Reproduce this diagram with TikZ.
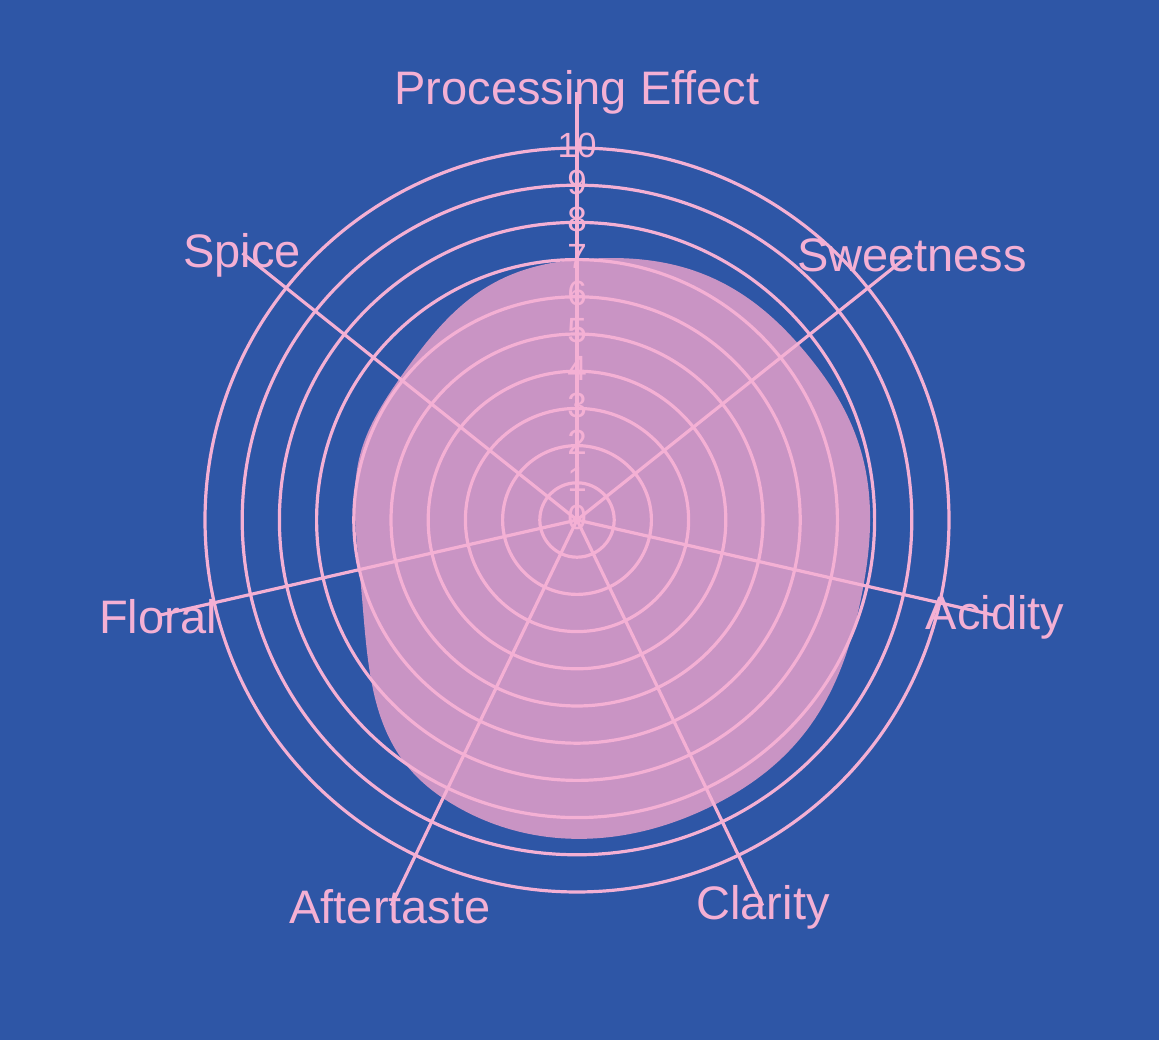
\documentclass[tikz,border=0pt]{standalone}
\usepackage{fontspec}
\setmainfont{Liberation Sans}
\definecolor{bg}{HTML}{2E56A6}
\definecolor{pk}{HTML}{F4B0D4}
\definecolor{fl}{HTML}{C994C4}
\begin{document}
\begin{tikzpicture}[x=1pt,y=1pt,
  ax/.style={draw=pk,line width=3.2pt},
  lab/.style={text=pk,font=\fontsize{47}{50}\selectfont,inner sep=0},
  tk/.style={text=pk,font=\fontsize{35}{38}\selectfont,inner sep=0}]
\fill[bg] (0,0) rectangle (1159,1040);
\useasboundingbox (0,0) rectangle (1159,1040);
\begin{scope}[shift={(577,520)}]
\fill[fl] plot[smooth cycle,tension=0.8] coordinates {
 (90:{7*37.2}) ({90-51.43}:{7.6*37.2}) ({90-2*51.43}:{7.9*37.2})
 ({90-3*51.43}:{8.5*37.2}) ({90-4*51.43}:{8.3*37.2})
 ({90-5*51.43}:{6*37.2}) ({90-6*51.43}:{6.1*37.2})};
\foreach \r in {1,...,10} \draw[ax] (0,0) circle ({\r*37.2});
\coordinate (c) at (0,0);
\foreach \i in {0,...,6} {
  \coordinate (e\i) at ({90-51.43*\i}:428);
  \draw[ax] (c) -- (e\i);
}
\foreach \k in {0,...,10} \node[tk] (t\k) at (0,{\k*37.2+3}) {\k};
\end{scope}
\node[lab] (l0) at (577,948) {Processing Effect};
\node[lab] (l1) at (912,785) {Sweetness};
\node[lab] (l2) at (995,423) {Acidity};
\node[lab] (l3) at (763,133) {Clarity};
\node[lab] (l4) at (390,133) {Aftertaste};
\node[lab] (l5) at (158,423) {Floral};
\node[lab] (l6) at (242,785) {Spice};
\end{tikzpicture}
\end{document}
